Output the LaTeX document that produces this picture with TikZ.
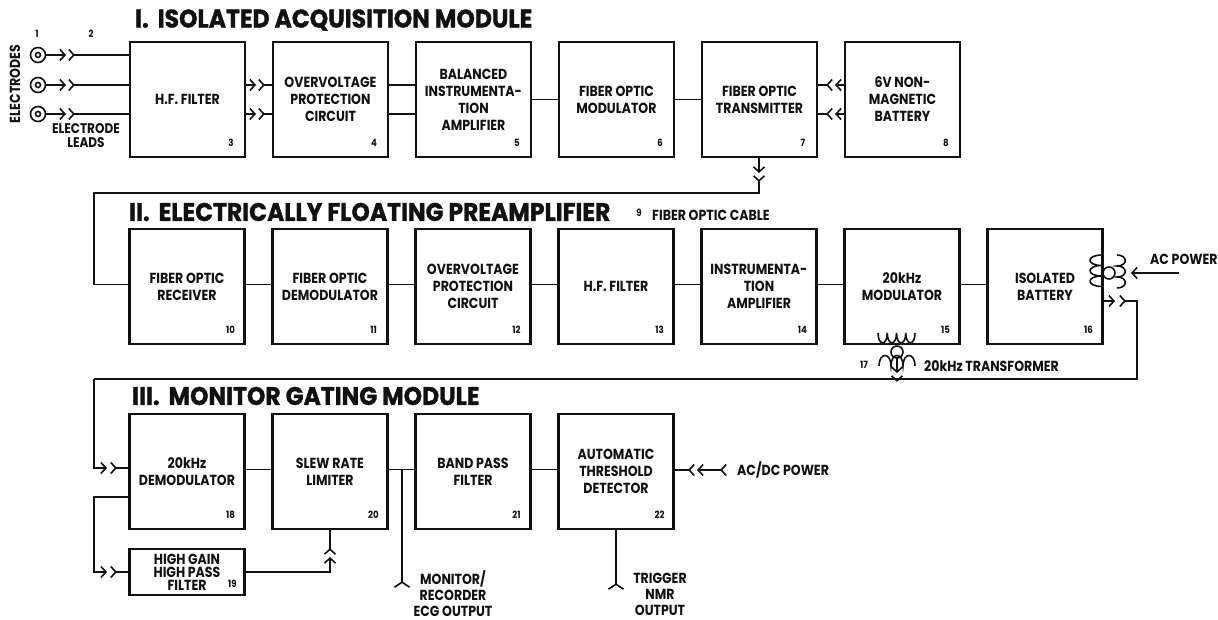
\documentclass[tikz,border=0pt]{standalone}
\usepackage{fontspec}
\newfontfamily\plainface[FakeStretch=0.86]{Poppins}
\newfontfamily\headface[FakeStretch=0.92,FakeBold=1.2]{Poppins}
\usetikzlibrary{arrows.meta,positioning,calc}
\definecolor{ink}{HTML}{111111}
\tikzset{
  blockbox/.style = {draw=ink, line width=2.3pt, minimum width=115pt, minimum height=115pt,
                   outer sep=0pt, inner sep=0pt, align=center, text=ink,
                   font=\plainface\bfseries\fontsize{14.6}{17}\selectfont},
  smallbox/.style = {blockbox, minimum height=46pt, font=\plainface\bfseries\fontsize{14.6}{13}\selectfont},
  tagnum/.style   = {text=ink, inner sep=0pt, font=\plainface\bfseries\fontsize{10}{11}\selectfont},
  lbl/.style      = {text=ink, inner sep=0pt, align=center, font=\plainface\bfseries\fontsize{14.6}{16}\selectfont},
  head/.style     = {text=ink, inner sep=0pt, anchor=west, font=\headface\bfseries\fontsize{25.5}{27}\selectfont},
  wire/.style     = {draw=ink, line width=1.5pt},
  plug/.style     = {wire, -{Straight Barb[length=5pt,width=11pt,line width=1.6pt]}},
  jack/.style     = {wire, {Straight Barb[reversed,length=5pt,width=11pt,line width=1.6pt]}-},
  socket/.style   = {wire, -{Straight Barb[reversed,length=5pt,width=15pt,line width=1.6pt]}},
  coil/.style     = {draw=ink, line width=1.6pt},
  ring/.style     = {circle, draw=ink, line width=1.6pt, fill=white, inner sep=0pt, outer sep=0pt},
}
\begin{document}
\begin{tikzpicture}[x=1pt,y=-1pt]
  \useasboundingbox (0,0) rectangle (1218,620);
  % section I
  \node[head] (headi) at (135,20) {I.\hspace{9pt}ISOLATED ACQUISITION MODULE};
  \node[blockbox] (hfa) at (187.5,99.5) {H.F. FILTER};
  \node[blockbox,right=28pt of hfa] (ovp) {OVERVOLTAGE\\PROTECTION\\CIRCUIT};
  \node[blockbox,right=28pt of ovp] (bia) {BALANCED\\INSTRUMENTA-\\TION\\AMPLIFIER};
  \node[blockbox,right=28pt of bia] (fom) {FIBER OPTIC\\MODULATOR};
  \node[blockbox,right=28pt of fom] (fot) {FIBER OPTIC\\TRANSMITTER};
  \node[blockbox,right=28pt of fot] (nmb) {6V NON-\\MAGNETIC\\BATTERY};
  % section II
  \node[head] (headii) at (129,212) {II.\hspace{9pt}ELECTRICALLY FLOATING PREAMPLIFIER};
  \node[blockbox] (for) at (187,286.5) {FIBER OPTIC\\RECEIVER};
  \node[blockbox,right=28pt of for] (fod) {FIBER OPTIC\\DEMODULATOR};
  \node[blockbox,right=28pt of fod] (ovq) {OVERVOLTAGE\\PROTECTION\\CIRCUIT};
  \node[blockbox,right=28pt of ovq] (hfb) {H.F. FILTER};
  \node[blockbox,right=28pt of hfb] (ina) {INSTRUMENTA-\\TION\\AMPLIFIER};
  \node[blockbox,right=28pt of ina] (mod) {20kHz\\MODULATOR};
  \node[blockbox,right=28pt of mod] (iso) {ISOLATED\\BATTERY};
  % section III
  \node[head] (headiii) at (132,396) {III.\hspace{9pt}MONITOR GATING MODULE};
  \node[blockbox] (dem) at (187,471.5) {20kHz\\DEMODULATOR};
  \node[blockbox,right=28pt of dem] (slew) {SLEW RATE\\LIMITER};
  \node[blockbox,right=28pt of slew] (bpf) {BAND PASS\\FILTER};
  \node[blockbox,right=28pt of bpf] (atd) {AUTOMATIC\\THRESHOLD\\DETECTOR};
  \node[smallbox,below=20pt of dem] (hpf) {HIGH GAIN\\HIGH PASS\\FILTER};
  % box numbers
  \foreach \b/\n in {hfa/3,ovp/4,bia/5,fom/6,fot/7,nmb/8,for/10,fod/11,ovq/12,hfb/13,ina/14,mod/15,iso/16,dem/18,slew/20,bpf/21,atd/22}
    \node[tagnum] (num\n) at ([xshift=-14pt,yshift=14pt]\b.south east) {\n};
  \node[tagnum] (num19) at ([xshift=-12pt,yshift=11pt]hpf.south east) {19};
  % electrodes
  \foreach \i/\y in {a/55,b/85,c/114} {
    \node[ring,minimum size=15pt] (el\i) at (38,\y) {};
    \node[ring,minimum size=5pt] (co\i) at (38,\y) {};
    \coordinate (pl\i) at (66,\y);
    \coordinate (ja\i) at (68,\y);
    \coordinate (lead\i) at (130,\y);
    \draw[plug] (el\i) -- (pl\i);
    \draw[jack] (ja\i) -- (lead\i);
  }
  \node[tagnum] (numa) at (37,34) {1};
  \node[tagnum] (numb) at (91,34) {2};
  \node[lbl,rotate=90] (elec) at (15,84) {ELECTRODES};
  \node[lbl,font=\plainface\bfseries\fontsize{14}{14}\selectfont] (leads) at (86,136) {ELECTRODE\\LEADS};
  % mated leads, filter to protection
  \foreach \t/\s in {u/14.5,d/-14.5} {
    \draw[plug] ([yshift=\s pt]hfa.east) -- ++(11,0) coordinate (pe\t);
    \draw[jack] ($(pe\t)+(2,0)$) -- ([yshift=\s pt]ovp.west);
    \draw[wire] ([yshift=\s pt]ovp.east) -- ([yshift=\s pt]bia.west);
    \draw[plug] ([yshift=\s pt]nmb.west) -- ++(-10,0) coordinate (qe\t);
    \draw[jack] ($(qe\t)+(-2,0)$) -- ([yshift=\s pt]fot.east);
  }
  \draw[wire] (bia) -- (fom);
  \draw[wire] (fom) -- (fot);
  % cable down to section II
  \coordinate (cabtip) at (759,173);
  \coordinate (cabjack) at (759,175);
  \coordinate (cabrun) at (94,193);
  \draw[plug] (fot.south -| cabtip) -- (cabtip);
  \draw[jack] (cabjack) |- (cabrun) |- ([yshift=2pt]for.west);
  \node[tagnum] (num9) at (639,213) {9};
  \node[lbl,anchor=west] (cable) at (652,215) {FIBER OPTIC CABLE};
  \foreach \a/\b in {for/fod,fod/ovq,ovq/hfb,hfb/ina,ina/mod,mod/iso,dem/slew,slew/bpf,bpf/atd}
    \draw[wire] ([yshift=2pt]\a.east) -- ([yshift=2pt]\b.west);
  % power transformer on the battery
  \node[ring,minimum size=12pt] (acring) at (1109,273) {};
  \draw[coil] (1102,255) foreach \k in {0,1,2} { .. controls (1086,{255+10.5*\k}) and (1086,{265.5+10.5*\k}) .. (1102,{265.5+10.5*\k}) };
  \draw[coil] (1117,255) foreach \k in {0,1,2} { .. controls (1128,{255+11*\k}) and (1128,{266+11*\k}) .. (1117,{266+11*\k}) };
  \coordinate (acin) at (1179,273);
  \coordinate (actip) at (1131,273);
  \draw[plug] (acin) -- (actip);
  \node[lbl,anchor=west] (acpower) at (1150,259) {AC POWER};
  % return to section III
  \coordinate (rettip) at (1115,301);
  \coordinate (retjack) at (1119,301);
  \coordinate (retcor) at (1137,379);
  \coordinate (retrun) at (94,379);
  \coordinate (demtip) at (107,468);
  \coordinate (demjack) at (110,468);
  \draw[plug] (iso.east |- rettip) -- (rettip);
  \draw[jack] (retjack) -| (retcor) -- (retrun);
  \draw[plug] (retrun) |- (demtip);
  \draw[jack] (demjack) -- (dem.west |- demjack);
  % signal transformer
  \node[ring,minimum size=12pt] (txring) at (897,352) {};
  \draw[coil] (878,333) foreach \k in {0,1,2,3} { .. controls ({878+9.25*\k},346) and ({887.25+9.25*\k},346) .. ({887.25+9.25*\k},333) };
  \draw[coil] (879,366) foreach \k in {0,1,2} { .. controls ({879+12*\k},352) and ({891+12*\k},352) .. ({891+12*\k},366) };
  \coordinate (txtip) at (897,373);
  \coordinate (txjack) at (897,375);
  \coordinate (txrun) at (897,379);
  \draw[plug] (txring) -- (txtip);
  \draw[jack] (txjack) -- (txrun);
  \node[tagnum] (numxvii) at (864,365) {17};
  \node[lbl,anchor=west] (txlabel) at (924,366) {20kHz TRANSFORMER};
  % high pass branch
  \coordinate (fbcor) at (94,497);
  \coordinate (hpftip) at (107,572);
  \coordinate (hpfjack) at (110,572);
  \draw[plug] (dem.west |- fbcor) -- (fbcor) |- (hpftip);
  \draw[jack] (hpfjack) -- (hpf.west |- hpfjack);
  \coordinate (uptip) at (330,557);
  \coordinate (upjack) at (330,555);
  \draw[plug] (hpf.east |- hpftip) -| (uptip);
  \draw[jack] (upjack) -- (slew.south -| upjack);
  % outputs
  \coordinate (montap) at (402,469.5);
  \coordinate (monend) at (402,588);
  \coordinate (trigend) at (616,590);
  \draw[socket] (montap) -- (monend);
  \draw[socket] (atd.south -| trigend) -- (trigend);
  \node[lbl] (monlabel) at (453,594) {MONITOR/\\RECORDER\\ECG OUTPUT};
  \node[lbl] (triglabel) at (660,594) {TRIGGER\\NMR\\OUTPUT};
  % threshold detector supply
  \coordinate (dcin) at (727,470);
  \coordinate (dctip) at (697,470);
  \coordinate (dcjack) at (695,470);
  \draw[wire,{Straight Barb[reversed,length=5pt,width=11pt,line width=1.6pt]}-{Straight Barb[length=5pt,width=11pt,line width=1.6pt]}] (dcin) -- (dctip);
  \draw[jack] (dcjack) -- (atd.east |- dcjack);
  \node[lbl,anchor=west] (dclabel) at (737,470) {AC/DC POWER};
\end{tikzpicture}
\end{document}
